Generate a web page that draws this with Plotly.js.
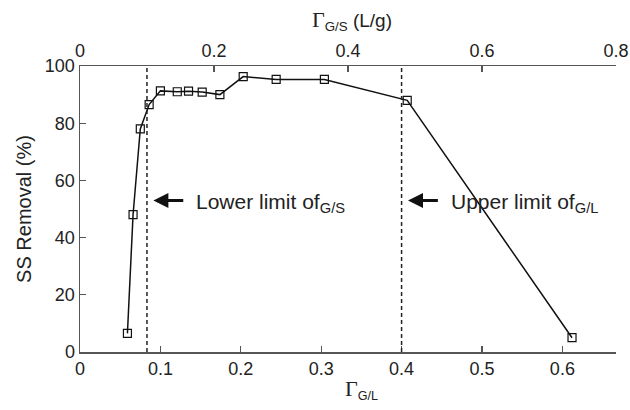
<!DOCTYPE html>
<html>
<head>
<meta charset="utf-8">
<script src="https://cdn.plot.ly/plotly-3.0.1.min.js"></script>
<style>html,body{margin:0;padding:0;background:#fff;}</style>
</head>
<body>
<div id="chart" style="width:630px;height:410px;"></div>
<script>
// Data
var gammaGL = [0.059, 0.066, 0.075, 0.086, 0.100, 0.121, 0.135, 0.152, 0.174, 0.203, 0.244, 0.304, 0.407, 0.612];
var ssRemoval = [6.5, 48, 78, 86.5, 91.3, 91, 91.2, 90.9, 90, 96.3, 95.3, 95.3, 88, 5];
var limitLines = [0.0833, 0.4];
var bottomTicks = [0, 0.1, 0.2, 0.3, 0.4, 0.5, 0.6];
var topTicks = [0, 0.2, 0.4, 0.6, 0.8];
var yTicks = [0, 20, 40, 60, 80, 100];
var arrowLabels = ['Lower limit of<sub>G/S</sub>', 'Upper limit of<sub>G/L</sub>'];
var arrowY = 53;

var font = 'Liberation Sans, Arial, sans-serif';
var axisColor = '#555';
var textColor = '#222';
var G = '<span style="font-family:Liberation Serif, Times New Roman, serif;font-size:22px">Γ</span>';

var traces = [{
  x: gammaGL, y: ssRemoval, xaxis: 'x', yaxis: 'y',
  mode: 'lines+markers', type: 'scatter',
  line: {color: '#111', width: 1.5},
  marker: {symbol: 'square-open', size: 8, color: '#111', line: {width: 1.2}},
  hoverinfo: 'skip', showlegend: false
}, {
  // empty trace so the top (Γ G/S) axis is drawn
  x: [], y: [], xaxis: 'x2', yaxis: 'y', type: 'scatter', mode: 'markers',
  hoverinfo: 'skip', showlegend: false
}];

var shapes = limitLines.map(function (v) {
  return {type: 'line', xref: 'x', yref: 'paper', x0: v, x1: v, y0: 0, y1: 1,
    line: {color: '#222', width: 1.5, dash: '4px,3px'}};
});

var annotations = [];
limitLines.forEach(function (v, i) {
  annotations.push({xref: 'x', yref: 'y', axref: 'x', ayref: 'y',
    x: v + 0.008, y: arrowY, ax: v + 0.047, ay: arrowY, text: '',
    showarrow: true, arrowhead: 2, arrowsize: 1, arrowwidth: 3, arrowcolor: '#111'});
  annotations.push({xref: 'x', yref: 'y', x: v + 0.059, y: arrowY,
    xanchor: 'left', yanchor: 'middle', yshift: -3, text: arrowLabels[i], showarrow: false,
    font: {family: font, size: 21, color: textColor}});
});
// axis titles
annotations.push({xref: 'paper', yref: 'paper', x: 0.5, y: 0, xshift: 13, yshift: -37,
  xanchor: 'center', yanchor: 'middle', showarrow: false,
  text: G + '<sub>G/L</sub>', font: {family: font, size: 18, color: textColor}});
annotations.push({xref: 'paper', yref: 'paper', x: 0.5, y: 1, xshift: 4, yshift: 46,
  xanchor: 'center', yanchor: 'middle', showarrow: false,
  text: G + '<sub>G/S</sub> (L/g)', font: {family: font, size: 19, color: textColor}});

var layout = {
  width: 630, height: 410,
  margin: {l: 80, r: 14, t: 66, b: 58},
  paper_bgcolor: '#fff', plot_bgcolor: '#fff',
  font: {family: font, size: 18, color: textColor},
  xaxis: {
    range: [0, 0.6667], tickvals: bottomTicks, ticktext: bottomTicks.map(String),
    ticks: 'inside', ticklen: 6, tickcolor: axisColor, tickwidth: 1.2,
    showline: true, linecolor: axisColor, linewidth: 1.5,
    showgrid: false, zeroline: false,
    tickfont: {family: font, size: 18, color: textColor}
  },
  xaxis2: {
    overlaying: 'x', side: 'top', anchor: 'y',
    range: [0, 0.8], tickvals: topTicks, ticktext: topTicks.map(String),
    ticks: 'inside', ticklen: 6, tickcolor: axisColor, tickwidth: 1.2,
    showline: true, linecolor: axisColor, linewidth: 1.5,
    showgrid: false, zeroline: false,
    tickfont: {family: font, size: 18, color: textColor}
  },
  yaxis: {
    range: [0, 100], tickvals: yTicks,
    ticks: 'inside', ticklen: 6, tickcolor: axisColor, tickwidth: 1.2,
    showline: true, linecolor: axisColor, linewidth: 1.5,
    showgrid: false, zeroline: false,
    tickfont: {family: font, size: 18, color: textColor},
    title: {text: 'SS Removal (%)', font: {family: font, size: 20, color: textColor}, standoff: 8}
  },
  shapes: shapes,
  annotations: annotations
};

Plotly.newPlot('chart', traces, layout, {staticPlot: true, displayModeBar: false});
</script>
</body>
</html>
